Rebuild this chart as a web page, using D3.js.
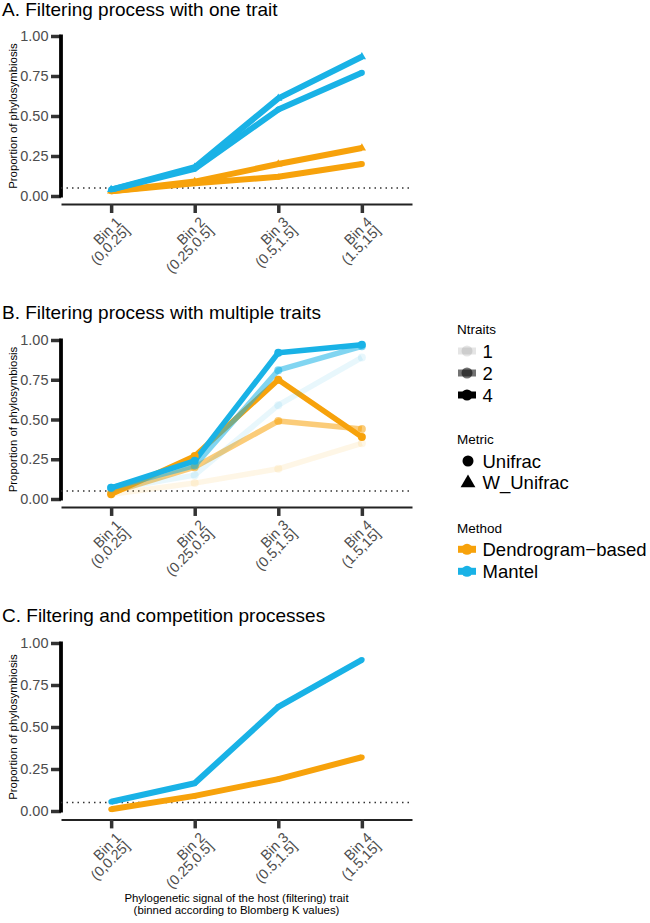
<!DOCTYPE html>
<html><head><meta charset="utf-8">
<script src="https://cdn.jsdelivr.net/npm/d3@7"></script>
<style>
body{margin:0;background:#fff}
text{font-family:"Liberation Sans",Arial,Helvetica,sans-serif}
</style>
</head><body><svg id="c" width="650" height="923"></svg>
<script>
// ---------------- data ----------------
const bins = ["Bin 1","Bin 2","Bin 3","Bin 4"];
const binRanges = ["(0,0.25]","(0.25,0.5]","(0.5,1.5]","(1.5,15]"];
const yTicks = [0,0.25,0.5,0.75,1];
const threshold = 0.05;

// Panel A: filtering with one trait (Ntraits = 1)
const aDendroUnifrac  = [0.03,0.08,0.12,0.20];
const aDendroWUnifrac = [0.03,0.09,0.20,0.30];
const aMantelUnifrac  = [0.04,0.17,0.54,0.77];
const aMantelWUnifrac = [0.04,0.18,0.61,0.87];

// Panel B: multiple traits (Unifrac)
const bDendro1 = [0.03,0.10,0.19,0.35];
const bDendro2 = [0.04,0.20,0.49,0.44];
const bDendro4 = [0.03,0.27,0.75,0.39];
const bMantel1 = [0.06,0.15,0.59,0.89];
const bMantel2 = [0.07,0.21,0.81,0.96];
const bMantel4 = [0.07,0.24,0.92,0.97];

// Panel C: filtering and competition
const cDendro = [0.01,0.09,0.19,0.32];
const cMantel = [0.055,0.165,0.62,0.90];

const ntraitsLevels = ["1","2","4"];
const ntraitsAlpha = [0.1,0.55,1];
const metricLevels = ["Unifrac","W_Unifrac"];
const methodLevels = ["Dendrogram\u2212based","Mantel"];
const methodColors = ["#F7A20B","#19B2E6"];

// --------------- drawing ---------------
const svg = d3.select("#c");
const ORANGE = methodColors[0], BLUE = methodColors[1];

const panels = [
  {title:"A. Filtering process with one trait", tb:16, y0:196, y1:36,
   series:[
     {v:aDendroUnifrac, c:ORANGE, a:1, shape:"circle", lw:6, r:3},
     {v:aDendroWUnifrac, c:ORANGE, a:1, shape:"triangle", lw:6, r:3},
     {v:aMantelUnifrac, c:BLUE, a:1, shape:"circle", lw:6, r:3},
     {v:aMantelWUnifrac, c:BLUE, a:1, shape:"triangle", lw:6, r:3}
   ]},
  {title:"B. Filtering process with multiple traits", tb:319, y0:499, y1:340,
   series:[
     {v:bDendro1, c:ORANGE, a:ntraitsAlpha[0], shape:"circle", lw:5.5, r:4},
     {v:bDendro2, c:ORANGE, a:ntraitsAlpha[1], shape:"circle", lw:5.5, r:4},
     {v:bDendro4, c:ORANGE, a:ntraitsAlpha[2], shape:"circle", lw:5.5, r:4},
     {v:bMantel1, c:BLUE, a:ntraitsAlpha[0], shape:"circle", lw:5.5, r:4},
     {v:bMantel2, c:BLUE, a:ntraitsAlpha[1], shape:"circle", lw:5.5, r:4},
     {v:bMantel4, c:BLUE, a:ntraitsAlpha[2], shape:"circle", lw:5.5, r:4}
   ]},
  {title:"C. Filtering and competition processes", tb:621.5, y0:811, y1:643,
   series:[
     {v:cDendro, c:ORANGE, a:1, shape:"circle", lw:6, r:2.8},
     {v:cMantel, c:BLUE, a:1, shape:"circle", lw:6, r:2.8}
   ]}
];

const x = d3.scalePoint().domain(bins).range([61,412]).padding(0.6);
const binIndex = i => bins[i];

panels.forEach(p => {
  const y = d3.scaleLinear().domain([0,1]).range([p.y0,p.y1]);
  const axisY = y(-0.05);
  const g = svg.append("g");

  g.append("text").attr("x",2).attr("y",p.tb).attr("font-size",19).attr("fill","#000").text(p.title);

  g.append("text").attr("transform",`translate(16.5,${(p.y0+p.y1)/2}) rotate(-90)`)
    .attr("text-anchor","middle").attr("font-size",11.4).attr("fill","#000")
    .text("Proportion of phylosymbiosis");

  const ya = g.append("g").attr("transform","translate(61,0)")
    .call(d3.axisLeft(y).tickValues(yTicks).tickFormat(d3.format(".2f")).tickSize(10).tickPadding(2.5));
  ya.select(".domain").remove();
  ya.selectAll(".tick line").attr("stroke","#333").attr("stroke-width",3.5);
  ya.selectAll(".tick text").attr("font-size",14.5).attr("fill","#4d4d4d").attr("font-family",null);
  g.append("line").attr("x1",61).attr("x2",61).attr("y1",y(0)+1.5).attr("y2",y(1)-1.5)
    .attr("stroke","#000").attr("stroke-width",3.8);

  const xa = g.append("g").attr("transform",`translate(0,${axisY})`)
    .call(d3.axisBottom(x).tickSize(9).tickSizeOuter(0).tickFormat(""));
  xa.select(".domain").attr("stroke","#222").attr("stroke-width",2);
  xa.selectAll(".tick line").attr("stroke","#333").attr("stroke-width",3.5);
  bins.forEach((b,i) => {
    const t = g.append("g").attr("transform",`translate(${x(b)+11},${axisY+19}) rotate(-45)`);
    t.append("text").attr("text-anchor","end").attr("font-size",14.2).attr("fill","#4d4d4d")
      .attr("x",0).attr("y",0).text(b);
    t.append("text").attr("text-anchor","end").attr("font-size",14.2).attr("fill","#4d4d4d")
      .attr("x",0).attr("y",12).text(binRanges[i]);
  });

  g.append("line").attr("x1",61).attr("x2",412).attr("y1",y(threshold)).attr("y2",y(threshold))
    .attr("stroke","#333").attr("stroke-width",1.5).attr("stroke-dasharray","1.5 4");

  const line = d3.line().x((d,i)=>x(binIndex(i))).y(d=>y(d));
  p.series.forEach(s => {
    g.append("path").attr("d",line(s.v)).attr("fill","none").attr("stroke",s.c)
      .attr("stroke-opacity",s.a).attr("stroke-width",s.lw).attr("stroke-linejoin","round");
  });
  p.series.forEach(s => {
    s.v.forEach((v,i) => {
      const cx = x(binIndex(i)), cy = y(v);
      if (s.shape === "circle") {
        g.append("circle").attr("cx",cx).attr("cy",cy).attr("r",s.r).attr("fill",s.c).attr("fill-opacity",s.a);
      } else {
        g.append("path").attr("d",d3.symbol(d3.symbolTriangle, 30)()).attr("transform",`translate(${cx},${cy})`)
          .attr("fill",s.c).attr("fill-opacity",s.a);
      }
    });
  });
});

svg.append("text").attr("x",236.5).attr("y",902).attr("text-anchor","middle").attr("font-size",11.4)
  .text("Phylogenetic signal of the host (filtering) trait");
svg.append("text").attr("x",236.5).attr("y",914).attr("text-anchor","middle").attr("font-size",11.4)
  .text("(binned according to Blomberg K values)");

// --------------- legends ---------------
const lx = 457, kx0 = 458, kx1 = 476, kc = 467, labX = 482.5;
const leg = svg.append("g");
leg.append("text").attr("x",lx).attr("y",334).attr("font-size",13.5).text("Ntraits");
ntraitsLevels.forEach((n,i) => {
  const cy = 351 + i*22;
  leg.append("line").attr("x1",kx0).attr("x2",kx1).attr("y1",cy).attr("y2",cy)
    .attr("stroke","#000").attr("stroke-opacity",ntraitsAlpha[i]).attr("stroke-width",7);
  leg.append("circle").attr("cx",kc).attr("cy",cy).attr("r",5.5).attr("fill","#000").attr("fill-opacity",ntraitsAlpha[i]);
  leg.append("text").attr("x",labX).attr("y",cy+6.5).attr("font-size",18.5).text(n);
});
leg.append("text").attr("x",lx).attr("y",444).attr("font-size",13.5).text("Metric");
metricLevels.forEach((m,i) => {
  const cy = 461 + i*21.5;
  if (i === 0) leg.append("circle").attr("cx",kc+1).attr("cy",cy).attr("r",5.5).attr("fill","#000");
  else leg.append("path").attr("d",d3.symbol(d3.symbolTriangle, 95)()).attr("transform",`translate(${kc+1},${cy+0.5})`).attr("fill","#000");
  leg.append("text").attr("x",labX).attr("y",cy+6.5).attr("font-size",18.5).text(m);
});
leg.append("text").attr("x",lx).attr("y",532.5).attr("font-size",13.5).text("Method");
methodLevels.forEach((m,i) => {
  const cy = 549.3 + i*22;
  leg.append("line").attr("x1",kx0).attr("x2",kx1).attr("y1",cy).attr("y2",cy)
    .attr("stroke",methodColors[i]).attr("stroke-width",7);
  leg.append("circle").attr("cx",kc).attr("cy",cy).attr("r",5.5).attr("fill",methodColors[i]);
  leg.append("text").attr("x",labX).attr("y",cy+6.5).attr("font-size",18.5).text(m);
});
</script>
</body></html>
